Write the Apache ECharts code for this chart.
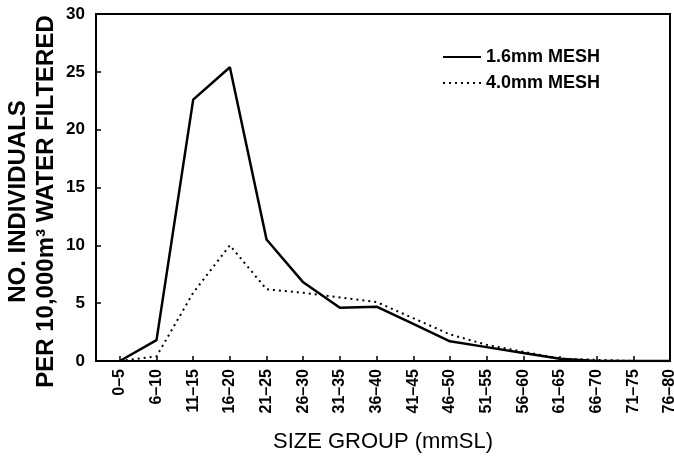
<!DOCTYPE html>
<html>
<head>
<meta charset="utf-8">
<script src="https://cdn.jsdelivr.net/npm/echarts@6/dist/echarts.min.js"></script>
<style>
  html, body { margin: 0; padding: 0; background: #fff; }
  #chart { width: 674px; height: 465px; }
</style>
</head>
<body>
<div id="chart"></div>
<script>
var sizeGroups = ["0–5", "6–10", "11–15", "16–20", "21–25", "26–30", "31–35", "36–40",
  "41–45", "46–50", "51–55", "56–60", "61–65", "66–70", "71–75", "76–80"];
var mesh16 = [0, 1.8, 22.6, 25.4, 10.5, 6.8, 4.6, 4.7, 3.2, 1.7, 1.2, 0.7, 0.2, 0, 0, 0];
var mesh40 = [0, 0.4, 5.9, 10.0, 6.2, 5.9, 5.5, 5.1, 3.7, 2.3, 1.4, 0.8, 0.2, 0.1, 0, 0];
var yTicks = [0, 5, 10, 15, 20, 25, 30];

var font = "Liberation Sans";
var positions = sizeGroups.map(function (c, i) { return i; });

function pairs(values) {
  return values.map(function (v, i) { return [i, v]; });
}

var chart = echarts.init(document.getElementById("chart"));
chart.setOption({
  animation: false,
  textStyle: { fontFamily: font, color: "#000" },
  grid: {
    left: 96, right: 4, top: 14, bottom: 104,
    outerBoundsMode: "none",
    show: true, borderColor: "#000", borderWidth: 2
  },
  legend: {
    orient: "vertical",
    left: 437, top: 43,
    itemWidth: 38, itemHeight: 14, itemGap: 8,
    itemStyle: { opacity: 0 },
    textStyle: { fontFamily: font, fontSize: 18, fontWeight: "bold", color: "#000" },
    data: ["1.6mm MESH", "4.0mm MESH"]
  },
  xAxis: {
    type: "value",
    min: -0.65, max: 15,
    name: "SIZE GROUP (mmSL)",
    nameLocation: "middle",
    nameGap: 70,
    nameTextStyle: { fontFamily: font, fontSize: 22, color: "#000" },
    axisLine: { lineStyle: { color: "#000", width: 2 } },
    axisTick: { inside: true, length: 5, customValues: positions, lineStyle: { color: "#000", width: 1.5 } },
    axisLabel: {
      customValues: positions,
      rotate: 90, margin: 8,
      fontFamily: font, fontSize: 16, fontWeight: "bold", color: "#000",
      formatter: function (v) { return sizeGroups[v]; }
    },
    splitLine: { show: false }
  },
  yAxis: {
    type: "value",
    min: 0, max: 30, interval: 5,
    name: "NO. INDIVIDUALS\nPER 10,000m³ WATER FILTERED",
    nameLocation: "middle",
    nameGap: 36,
    nameMoveOverlap: false,
    nameRotate: 90,
    nameTextStyle: {
      fontFamily: font, fontSize: 24, fontWeight: "bold", color: "#000",
      lineHeight: 28, padding: [0, 28, 0, 0]
    },
    axisLine: { show: true, onZero: false, lineStyle: { color: "#000", width: 2 } },
    axisTick: { show: true, inside: true, length: 5, lineStyle: { color: "#000", width: 1.5 } },
    axisLabel: {
      margin: 11, fontFamily: font, fontSize: 17, fontWeight: "bold", color: "#000",
      formatter: function (v) { return yTicks.indexOf(v) >= 0 ? String(v) : ""; }
    },
    splitLine: { show: false }
  },
  series: [
    {
      name: "1.6mm MESH",
      type: "line",
      data: pairs(mesh16),
      symbol: "none",
      lineStyle: { color: "#000", width: 2.5 },
      itemStyle: { color: "#000" }
    },
    {
      name: "4.0mm MESH",
      type: "line",
      data: pairs(mesh40),
      symbol: "none",
      lineStyle: { color: "#000", width: 2, type: [2, 4] },
      itemStyle: { color: "#000" }
    }
  ]
});
</script>
</body>
</html>
